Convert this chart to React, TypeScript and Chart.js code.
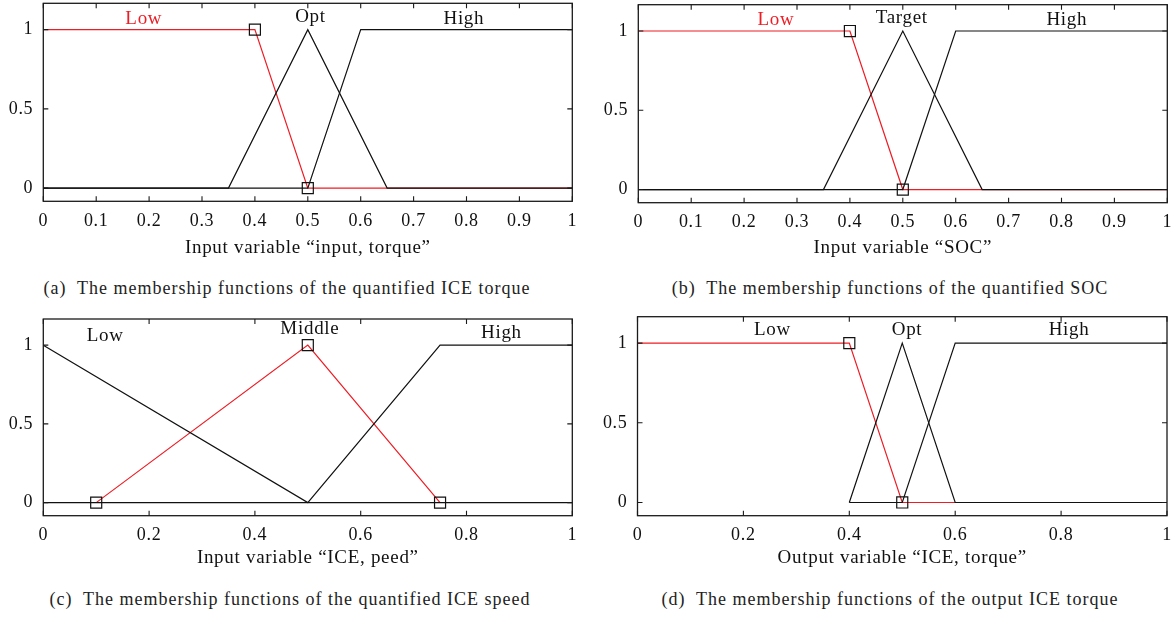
import React, { useEffect, useRef } from "react";
import { Chart, registerables } from "chart.js";

Chart.register(...registerables);

const SERIF = "'Liberation Serif', 'Times New Roman', Times, serif";
const RED = "#ee1c24";
const INK = "#111111";

// ---- tick values ----
const ticksTenths = [0, 0.1, 0.2, 0.3, 0.4, 0.5, 0.6, 0.7, 0.8, 0.9, 1];
const ticksFifths = [0, 0.2, 0.4, 0.6, 0.8, 1];
const yTickValues = [0, 0.5, 1];

// ---- (a) input torque ----
const aLowX = [0, 0.4, 0.5, 1];
const aLowY = [1, 1, 0, 0];
const aLowMarks = [false, true, true, false];
const aOptX = [0, 0.35, 0.5, 0.65, 1];
const aOptY = [0, 0, 1, 0, 0];
const aHighX = [0, 0.5, 0.6, 1];
const aHighY = [0, 0, 1, 1];
const aNames = ["Low", "Opt", "High"];
const aNameX = [0.19, 0.505, 0.795];
const aNameY = [1.07, 1.08, 1.07];

// ---- (b) SOC ----
const bLowX = [0, 0.4, 0.5, 1];
const bLowY = [1, 1, 0, 0];
const bLowMarks = [false, true, true, false];
const bTargetX = [0, 0.35, 0.5, 0.65, 1];
const bTargetY = [0, 0, 1, 0, 0];
const bHighX = [0, 0.5, 0.6, 1];
const bHighY = [0, 0, 1, 1];
const bNames = ["Low", "Target", "High"];
const bNameX = [0.26, 0.498, 0.81];
const bNameY = [1.067, 1.08, 1.07];

// ---- (c) ICE speed ----
const cLowX = [0, 0.5, 1];
const cLowY = [1, 0, 0];
const cMiddleX = [0.1, 0.5, 0.75];
const cMiddleY = [0, 1, 0];
const cMiddleMarks = [true, true, true];
const cHighX = [0, 0.5, 0.75, 1];
const cHighY = [0, 0, 1, 1];
const cNames = ["Low", "Middle", "High"];
const cNameX = [0.117, 0.504, 0.866];
const cNameY = [1.055, 1.105, 1.08];

// ---- (d) output ICE torque ----
const dLowX = [0, 0.4, 0.5, 1];
const dLowY = [1, 1, 0, 0];
const dLowMarks = [false, true, true, false];
const dOptX = [0.4, 0.5, 0.6, 1];
const dOptY = [0, 1, 0, 0];
const dHighX = [0.4, 0.5, 0.6, 1];
const dHighY = [0, 0, 1, 1];
const dNames = ["Low", "Opt", "High"];
const dNameX = [0.255, 0.509, 0.815];
const dNameY = [1.08, 1.08, 1.08];

type Series = { xs: number[]; ys: number[]; color: string; marks?: boolean[] };
type PanelCfg = {
  left: number;
  top: number;
  W: number;
  H: number;
  area: { l: number; t: number; r: number; b: number };
  xTicks: number[];
  title: string;
  series: Series[]; // first drawn on top
  names: string[];
  nameX: number[];
  nameY: number[];
  nameColor: string[];
};

const panels: PanelCfg[] = [
  {
    left: 0, top: 0, W: 586, H: 270,
    area: { l: 43.3, t: 3.3, r: 572.3, b: 201.3 },
    xTicks: ticksTenths,
    title: "Input variable \u201Cinput, torque\u201D",
    series: [
      { xs: aOptX, ys: aOptY, color: INK },
      { xs: aHighX, ys: aHighY, color: INK },
      { xs: aLowX, ys: aLowY, color: RED, marks: aLowMarks },
    ],
    names: aNames, nameX: aNameX, nameY: aNameY, nameColor: [RED, INK, INK],
  },
  {
    left: 586, top: 0, W: 586, H: 270,
    area: { l: 52.3, t: 4.7, r: 581.3, b: 202.7 },
    xTicks: ticksTenths,
    title: "Input variable \u201CSOC\u201D",
    series: [
      { xs: bTargetX, ys: bTargetY, color: INK },
      { xs: bHighX, ys: bHighY, color: INK },
      { xs: bLowX, ys: bLowY, color: RED, marks: bLowMarks },
    ],
    names: bNames, nameX: bNameX, nameY: bNameY, nameColor: [RED, INK, INK],
  },
  {
    left: 0, top: 310, W: 586, H: 270,
    area: { l: 43.3, t: 7.3, r: 572.3, b: 205.7 },
    xTicks: ticksFifths,
    title: "Input variable \u201CICE, peed\u201D",
    series: [
      { xs: cLowX, ys: cLowY, color: INK },
      { xs: cHighX, ys: cHighY, color: INK },
      { xs: cMiddleX, ys: cMiddleY, color: RED, marks: cMiddleMarks },
    ],
    names: cNames, nameX: cNameX, nameY: cNameY, nameColor: [INK, INK, INK],
  },
  {
    left: 586, top: 310, W: 586, H: 270,
    area: { l: 51.5, t: 6.7, r: 581, b: 205.7 },
    xTicks: ticksFifths,
    title: "Output variable \u201CICE, torque\u201D",
    series: [
      { xs: dOptX, ys: dOptY, color: INK },
      { xs: dHighX, ys: dHighY, color: INK },
      { xs: dLowX, ys: dLowY, color: RED, marks: dLowMarks },
    ],
    names: dNames, nameX: dNameX, nameY: dNameY, nameColor: [INK, INK, INK],
  },
];

const captions = [
  { text: "(a)  The membership functions of the quantified ICE torque", cx: 287, baseline: 294.5 },
  { text: "(b)  The membership functions of the quantified SOC", cx: 890, baseline: 294.5 },
  { text: "(c)  The membership functions of the quantified ICE speed", cx: 290, baseline: 605 },
  { text: "(d)  The membership functions of the output ICE torque", cx: 890, baseline: 605 },
];

const Y_MIN = -0.083;
const Y_MAX = 1.166;
const TICK_FONT = 18;
const TITLE_FONT = 19;
const NAME_FONT = 19;
const CAPTION_FONT = 18;
const CANVAS_SPACING = "0.7px";

function Panel({ cfg }: { cfg: PanelCfg }) {
  const ref = useRef<HTMLCanvasElement | null>(null);
  useEffect(() => {
    const canvas = ref.current;
    if (!canvas) return;
    const { W, H, area } = cfg;
    const deco = {
      id: "deco",
      beforeDraw(chart: any) {
        (chart.ctx as any).letterSpacing = CANVAS_SPACING;
      },
      afterDatasetsDraw(chart: any) {
        const ctx = chart.ctx;
        const ca = chart.chartArea;
        const xs = chart.scales.x;
        const ys = chart.scales.y;
        ctx.save();
        ctx.strokeStyle = "#1a1a1a";
        ctx.lineWidth = 1.3;
        ctx.strokeRect(ca.left, ca.top, ca.right - ca.left, ca.bottom - ca.top);
        ctx.lineWidth = 1.1;
        ctx.beginPath();
        const TL = 5;
        cfg.xTicks.forEach((v) => {
          const px = xs.getPixelForValue(v);
          ctx.moveTo(px, ca.bottom);
          ctx.lineTo(px, ca.bottom - TL);
          ctx.moveTo(px, ca.top);
          ctx.lineTo(px, ca.top + TL);
        });
        yTickValues.forEach((v) => {
          const py = ys.getPixelForValue(v);
          ctx.moveTo(ca.left, py);
          ctx.lineTo(ca.left + TL, py);
          ctx.moveTo(ca.right, py);
          ctx.lineTo(ca.right - TL, py);
        });
        ctx.stroke();
        ctx.restore();
      },
      afterDraw(chart: any) {
        const ctx = chart.ctx;
        const xs = chart.scales.x;
        const ys = chart.scales.y;
        ctx.save();
        ctx.font = `${NAME_FONT}px ${SERIF}`;
        ctx.textAlign = "center";
        ctx.textBaseline = "middle";
        cfg.names.forEach((n, i) => {
          ctx.fillStyle = cfg.nameColor[i];
          ctx.fillText(n, xs.getPixelForValue(cfg.nameX[i]), ys.getPixelForValue(cfg.nameY[i]));
        });
        ctx.restore();
      },
    };
    const datasets = cfg.series.map((s) => ({
      data: s.xs.map((x, i) => ({ x, y: s.ys[i] })),
      borderColor: s.color,
      borderWidth: 1.2,
      tension: 0,
      fill: false,
      pointStyle: "rect",
      pointRadius: s.xs.map((_, i) => (s.marks && s.marks[i] ? 7.8 : 0)),
      pointBorderColor: INK,
      pointBorderWidth: 1.2,
      pointBackgroundColor: "rgba(0,0,0,0)",
    }));
    const chart = new Chart(canvas, {
      type: "line",
      data: { datasets } as any,
      options: {
        animation: false,
        responsive: false,
        maintainAspectRatio: false,
        events: [],
        layout: { padding: { top: area.t, right: W - area.r, left: 0, bottom: 0 } },
        plugins: {
          legend: { display: false },
          tooltip: { enabled: false },
          title: { display: false },
        },
        scales: {
          x: {
            type: "linear",
            position: "bottom",
            min: 0,
            max: 1,
            afterBuildTicks: (s: any) => {
              s.ticks = cfg.xTicks.map((v) => ({ value: v }));
            },
            afterFit: (s: any) => {
              s.height = H - area.b;
              s.paddingLeft = 0;
              s.paddingRight = 0;
            },
            grid: { display: false, drawTicks: false },
            border: { display: false },
            ticks: {
              color: INK,
              font: { family: SERIF, size: TICK_FONT },
              padding: 9,
              autoSkip: false,
              maxRotation: 0,
              callback: (v: any) => String(v),
            },
            title: {
              display: true,
              text: cfg.title,
              color: INK,
              font: { family: SERIF, size: TITLE_FONT },
              padding: { top: 0, bottom: 11 },
            },
          },
          y: {
            type: "linear",
            min: Y_MIN,
            max: Y_MAX,
            afterBuildTicks: (s: any) => {
              s.ticks = yTickValues.map((v) => ({ value: v }));
            },
            afterFit: (s: any) => {
              s.width = area.l;
              s.paddingTop = 0;
              s.paddingBottom = 0;
            },
            grid: { display: false, drawTicks: false },
            border: { display: false },
            ticks: {
              color: INK,
              font: { family: SERIF, size: TICK_FONT },
              padding: 10,
              callback: (v: any) => String(v),
            },
          },
        },
      } as any,
      plugins: [deco],
    });
    return () => chart.destroy();
  }, [cfg]);
  return (
    <canvas
      ref={ref}
      width={cfg.W}
      height={cfg.H}
      style={{ position: "absolute", left: cfg.left, top: cfg.top, width: cfg.W, height: cfg.H }}
    />
  );
}

export default function App() {
  const lineH = 22;
  const baselineOffset = (lineH - 1.107 * CAPTION_FONT) / 2 + 0.891 * CAPTION_FONT;
  return (
    <div
      style={{
        position: "fixed",
        left: 0,
        top: 0,
        width: 1172,
        height: 618,
        background: "#ffffff",
        overflow: "hidden",
      }}
    >
      {panels.map((p, i) => (
        <Panel key={i} cfg={p} />
      ))}
      {captions.map((c, i) => (
        <div
          key={"c" + i}
          style={{
            position: "absolute",
            left: c.cx - 300,
            width: 600,
            top: c.baseline - baselineOffset,
            textAlign: "center",
            whiteSpace: "pre",
            fontFamily: SERIF,
            fontSize: CAPTION_FONT,
            letterSpacing: "1px",
            lineHeight: lineH + "px",
            color: "#222",
          }}
        >
          {c.text}
        </div>
      ))}
    </div>
  );
}
